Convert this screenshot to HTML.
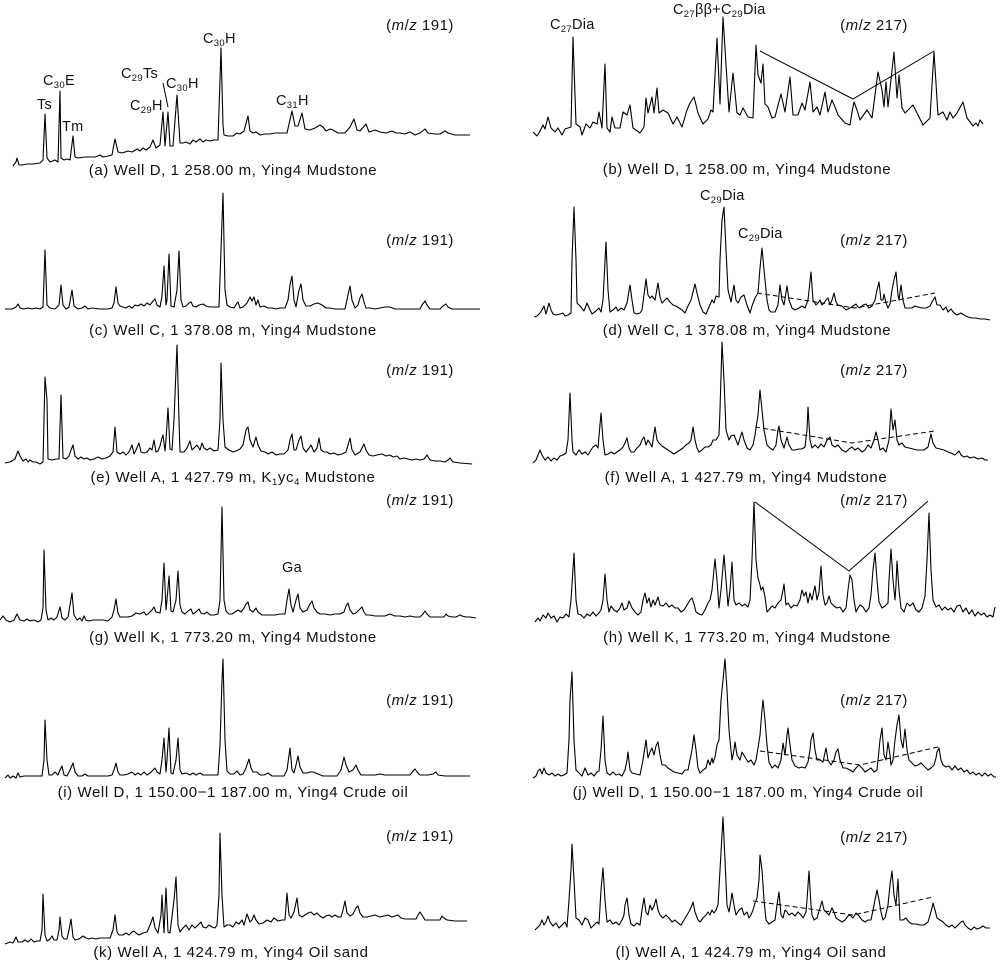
<!DOCTYPE html>
<html><head><meta charset="utf-8"><style>
html,body{margin:0;padding:0;background:#fff;}
svg{display:block;}
text{font-family:"Liberation Sans",Arial,sans-serif;fill:#111;}
.cap{font-size:15px;letter-spacing:0.6px;}
.mz{font-size:15px;letter-spacing:0.5px;}
.lb{font-size:14.5px;letter-spacing:0.3px;}
.t{fill:none;stroke:#000;stroke-width:1.1;stroke-linejoin:round;}
.v{fill:none;stroke:#000;stroke-width:1;}
.d{fill:none;stroke:#000;stroke-width:1;stroke-dasharray:5,3;}
</style></head><body>
<svg width="1000" height="962" viewBox="0 0 1000 962" xmlns="http://www.w3.org/2000/svg">

<!-- (a) -->
<polyline class="t" points="13,166 16,162 17,158 19,165 22,165 27,164 33,164 40,163 43,160 45,114 47,158 50,162 55,160 58,162 60,91 61,158 64,160 67,159 70,160 73,136 75,157 78,158 85,157 95,157 100,155 103,157 108,156 112,155 115,139 118,152 122,153 128,151 132,152 137,149 140,151 143,148 146,150 150,147 153,140 156,148 160,145 163,112 165,146 168,112 170,146 173,146 177,95 180,143 183,143 186,142 190,144 193,140 196,142 200,139 203,142 206,140 210,141 214,140 218,140 220,80 221,48 223,125 224,135 228,136 233,136 237,133 240,134 244,131 248,116 250,131 253,133 256,132 260,135 265,134 270,134 275,133 280,133 287,133 292,111 295,126 298,126 302,113 305,129 310,130 315,128 320,125 323,127 326,131 330,129 333,130 338,133 345,133 350,127 354,119 357,130 360,131 366,124 369,132 375,130 380,132 386,133 392,131 396,133 400,133 405,134 410,132 415,135 420,133 425,129 428,133 435,134 440,134 445,131 448,133 455,135 470,135"/>
<text class="lb" x="37" y="109">Ts</text>
<text class="lb" x="43" y="85">C<tspan font-size="9.5" dy="3">30</tspan><tspan dy="-3">E</tspan></text>
<text class="lb" x="62" y="131">Tm</text>
<text class="lb" x="121" y="78">C<tspan font-size="9.5" dy="3">29</tspan><tspan dy="-3">Ts</tspan></text>
<line class="v" x1="163" y1="83" x2="168" y2="107"/>
<text class="lb" x="166" y="88">C<tspan font-size="9.5" dy="3">30</tspan><tspan dy="-3">H</tspan></text>
<text class="lb" x="130" y="110">C<tspan font-size="9.5" dy="3">29</tspan><tspan dy="-3">H</tspan></text>
<text class="lb" x="203" y="43">C<tspan font-size="9.5" dy="3">30</tspan><tspan dy="-3">H</tspan></text>
<text class="lb" x="276" y="105">C<tspan font-size="9.5" dy="3">31</tspan><tspan dy="-3">H</tspan></text>
<text class="mz" x="420" y="30" text-anchor="middle">(<tspan font-style="italic">m</tspan>/<tspan font-style="italic">z</tspan> 191)</text>
<text class="cap" x="233" y="175" text-anchor="middle">(a) Well D, 1 258.00 m, Ying4 Mudstone</text>

<!-- (b) -->
<polyline class="t" points="533,132 537,136 539,133 543,125 545,129 548,117 551,128 555,132 558,128 562,135 565,129 568,128 571,127 573,37 576,124 580,127 582,135 586,124 590,128 593,122 597,124 599,112 602,128 605,64 607,128 610,132 612,117 615,128 620,128 623,112 627,115 630,105 633,128 640,133 644,127 646,98 648,113 652,97 654,113 657,88 659,113 663,110 668,113 673,124 677,117 682,127 687,110 690,103 694,97 698,113 703,124 708,119 711,110 713,112 717,38 720,104 723,17 729,112 733,73 737,113 740,115 743,108 748,117 753,118 756,45 758,75 761,83 763,64 765,104 768,107 772,118 775,117 781,94 785,112 790,77 793,115 798,115 802,103 805,110 810,82 813,112 817,107 820,115 825,92 828,112 832,100 835,107 838,115 845,123 850,125 852,112 854,102 857,110 860,120 867,110 872,118 878,72 882,90 884,107 886,82 888,107 894,52 897,98 899,75 902,108 905,113 908,110 913,105 917,113 923,125 930,118 934,52 938,115 943,112 947,120 950,112 953,118 957,113 963,102 967,118 970,122 973,126 976,123 978,126 980,120 983,124"/>
<polyline class="v" points="760,51 853,99 934,51"/>
<text class="lb" x="550" y="29">C<tspan font-size="9.5" dy="3">27</tspan><tspan dy="-3">Dia</tspan></text>
<text class="lb" x="673" y="14">C<tspan font-size="9.5" dy="3">27</tspan><tspan dy="-3">ββ+C</tspan><tspan font-size="9.5" dy="3">29</tspan><tspan dy="-3">Dia</tspan></text>
<text class="mz" x="874" y="30" text-anchor="middle">(<tspan font-style="italic">m</tspan>/<tspan font-style="italic">z</tspan> 217)</text>
<text class="cap" x="747" y="174" text-anchor="middle">(b) Well D, 1 258.00 m, Ying4 Mudstone</text>

<!-- (c) -->
<polyline class="t" points="5,309 12,309 16,307 18,304 20,308 24,309 28,308 32,309 36,308 40,309 43,307 45,250 47,305 50,308 55,309 59,305 61,285 63,305 66,309 69,307 72,290 74,306 78,309 82,308 85,306 88,309 92,308 100,309 108,309 112,308 114,303 116,287 118,303 120,306 123,307 126,308 129,306 132,308 135,305 138,306 141,304 144,306 147,303 150,305 153,301 155,299 157,305 160,307 162,296 164,266 166,305 167,300 169,254 171,306 174,307 177,290 179,251 181,300 183,307 186,306 189,303 191,302 193,306 196,307 199,305 203,304 206,306 210,307 214,307 219,307 221,250 223,193 225,290 227,305 230,307 234,308 237,303 238,302 240,308 243,307 247,303 250,297 252,301 254,297 256,305 258,300 260,307 264,306 268,308 272,308 276,309 280,308 285,308 288,300 290,285 292,276 294,300 296,307 299,290 301,284 303,300 306,306 310,306 314,304 318,303 322,305 326,308 330,308 335,309 340,309 345,309 348,295 350,286 352,300 355,308 358,305 360,298 362,294 364,302 366,308 370,308 375,309 380,308 385,307 390,307 395,309 400,309 405,309 410,309 415,309 420,309 422,305 425,301 427,305 430,309 435,309 440,309 443,306 446,304 448,307 452,309 460,309 470,309 480,309"/>
<text class="mz" x="420" y="245" text-anchor="middle">(<tspan font-style="italic">m</tspan>/<tspan font-style="italic">z</tspan> 191)</text>
<text class="cap" x="233" y="335" text-anchor="middle">(c) Well C, 1 378.08 m, Ying4 Mudstone</text>

<!-- (d) -->
<polyline class="t" points="534,317 537,316 540,313 542,310 544,306 546,314 549,303 551,310 553,314 556,315 560,314 563,313 565,316 568,315 571,313 572,260 574,207 576,260 577,303 580,306 584,311 587,303 590,310 592,314 596,311 599,308 601,312 603,300 606,242 608,290 610,312 613,310 616,307 618,311 621,308 624,310 627,303 630,285 632,300 634,313 637,314 640,313 642,310 644,295 646,279 648,295 650,298 652,296 655,300 658,283 660,297 662,303 665,300 667,298 670,302 673,305 676,306 679,308 682,310 685,313 688,306 691,300 693,292 695,284 697,293 700,305 703,312 706,314 709,307 712,300 714,303 716,296 719,297 720,260 722,220 724,207 726,250 728,290 731,302 734,285 736,300 738,303 741,297 744,295 747,305 750,313 752,306 755,298 758,293 760,268 762,248 764,270 767,300 769,310 771,312 775,312 778,305 780,285 782,300 784,305 787,286 789,300 792,308 795,310 799,308 802,306 805,308 808,300 811,272 813,300 816,305 818,303 820,300 822,305 824,303 826,300 828,298 830,305 832,300 834,293 836,302 838,305 842,306 846,310 850,308 853,306 856,304 858,307 860,308 863,305 866,304 869,308 872,306 875,300 877,290 879,282 881,300 883,300 884,294 886,303 888,308 890,304 892,290 894,280 896,272 898,295 899,300 901,285 903,300 905,308 908,308 912,308 915,306 918,307 922,308 926,308 930,306 932,302 935,297 937,305 940,305 943,310 946,307 948,312 951,309 954,313 957,315 961,313 964,315 968,317 972,318 976,318 980,319 985,319 990,320"/>
<polyline class="d" points="757,293 855,308 935,293"/>
<text class="lb" x="700" y="200">C<tspan font-size="9.5" dy="3">29</tspan><tspan dy="-3">Dia</tspan></text>
<text class="lb" x="738" y="238">C<tspan font-size="9.5" dy="3">29</tspan><tspan dy="-3">Dia</tspan></text>
<text class="mz" x="874" y="245" text-anchor="middle">(<tspan font-style="italic">m</tspan>/<tspan font-style="italic">z</tspan> 217)</text>
<text class="cap" x="747" y="335" text-anchor="middle">(d) Well C, 1 378.08 m, Ying4 Mudstone</text>

<!-- (e) -->
<polyline class="t" points="5,463 10,462 15,459 18,451 20,456 23,461 26,459 28,462 30,460 33,462 36,462 40,464 43,462 45,377 47,400 48,459 52,460 56,459 59,459 61,395 63,458 66,459 69,456 71,450 73,445 75,456 78,459 81,457 84,459 87,458 90,460 94,459 98,457 102,459 106,458 110,456 113,452 115,427 117,452 120,454 123,452 126,455 129,452 132,445 134,454 136,450 139,443 141,452 144,453 147,452 150,448 152,450 154,440 156,452 158,451 160,446 162,438 163,435 165,451 166,440 168,408 170,449 172,450 174,420 177,345 179,420 180,452 184,452 187,448 190,441 192,450 195,447 197,445 200,450 202,443 204,448 207,450 210,448 214,451 218,450 220,420 221,363 223,420 225,447 229,450 233,452 236,451 240,449 243,445 246,430 248,427 250,440 253,447 256,437 258,445 261,451 265,452 268,454 272,452 276,455 280,454 284,454 288,450 290,440 292,434 294,450 296,450 299,440 301,436 303,448 306,452 309,448 311,445 314,452 317,448 319,438 321,450 324,452 327,452 330,454 334,453 338,455 342,454 346,452 348,445 350,438 352,450 355,455 360,452 362,448 364,444 366,450 369,455 373,456 377,455 382,454 386,456 390,455 393,457 397,456 400,459 404,458 408,459 412,460 416,459 420,460 424,459 427,455 430,460 435,461 440,461 445,462 448,460 450,458 453,462 460,463 472,464"/>
<text class="mz" x="420" y="375" text-anchor="middle">(<tspan font-style="italic">m</tspan>/<tspan font-style="italic">z</tspan> 191)</text>
<text class="cap" x="233" y="482" text-anchor="middle">(e) Well A, 1 427.79 m, K<tspan font-size="9.5" dy="3">1</tspan><tspan dy="-3">yc</tspan><tspan font-size="9.5" dy="3">4</tspan><tspan dy="-3"> Mudstone</tspan></text>

<!-- (f) -->
<polyline class="t" points="533,463 536,460 538,455 540,450 542,455 545,460 548,457 551,461 554,458 557,460 560,456 563,455 566,453 568,440 570,393 572,440 573,452 576,455 579,450 582,454 585,452 588,455 591,450 593,447 596,445 598,448 601,413 603,440 605,455 608,454 611,452 614,454 617,452 620,450 623,447 625,443 627,438 629,448 631,452 634,452 637,448 640,445 642,440 644,437 646,445 648,440 650,443 652,447 655,427 657,440 659,443 662,446 665,448 668,450 671,452 674,454 677,452 680,450 683,448 686,445 689,443 691,440 693,427 695,440 697,448 699,452 702,450 705,447 708,447 711,445 713,440 716,440 719,435 720,410 722,342 724,380 726,430 729,440 731,436 734,435 736,440 738,445 740,438 742,432 744,440 747,448 750,450 753,445 755,435 758,415 760,390 762,410 764,430 767,445 770,448 773,450 776,445 778,430 779,426 781,440 784,448 787,437 789,445 792,450 795,450 799,449 802,449 805,447 807,430 808,407 810,440 812,448 815,445 818,448 821,444 824,447 827,440 830,437 832,445 835,447 838,445 842,450 846,452 849,449 852,447 855,450 858,448 862,452 865,450 868,445 871,448 874,440 876,432 878,440 880,450 883,448 886,452 889,440 891,409 893,430 895,420 897,440 899,445 902,443 905,447 909,448 913,449 917,450 920,450 924,450 928,447 931,434 933,443 936,448 940,449 944,450 948,452 951,453 955,455 958,452 959,451 961,455 964,457 967,456 970,458 974,457 978,459 982,458 985,460 988,460"/>
<polyline class="d" points="755,427 852,443 935,431"/>
<text class="mz" x="874" y="375" text-anchor="middle">(<tspan font-style="italic">m</tspan>/<tspan font-style="italic">z</tspan> 217)</text>
<text class="cap" x="746" y="482" text-anchor="middle">(f) Well A, 1 427.79 m, Ying4 Mudstone</text>

<!-- (g) -->
<polyline class="t" points="0,620 3,616 6,620 10,622 14,620 17,614 20,620 24,621 27,619 30,621 34,620 38,622 41,620 43,608 44,550 46,610 48,620 51,618 54,620 57,617 60,607 62,618 65,620 68,617 70,605 72,593 74,615 77,620 80,618 82,621 84,616 86,620 89,621 93,620 98,620 103,620 108,621 110,619 112,617 114,610 116,599 118,613 120,617 124,617 128,617 132,616 136,613 140,614 144,612 146,615 148,614 152,610 154,607 156,612 160,613 162,600 164,563 166,610 167,600 169,576 171,611 173,612 176,600 178,571 180,605 182,612 185,614 188,611 191,609 193,614 196,612 199,609 201,613 204,614 207,612 210,615 214,615 218,614 220,600 222,507 224,600 226,611 229,614 232,614 235,612 238,610 241,612 244,608 246,604 248,602 250,610 253,612 256,608 258,612 262,615 266,615 270,615 275,615 280,614 285,614 287,600 289,589 291,605 293,612 296,600 298,594 300,608 303,612 307,610 310,604 312,601 314,608 317,612 320,614 325,614 330,615 335,614 340,614 344,612 346,606 348,603 350,610 353,614 356,613 359,610 362,607 364,612 366,615 370,615 375,616 380,616 385,616 390,614 395,616 400,616 405,617 410,616 415,617 420,617 423,614 425,611 427,614 430,617 435,617 440,617 444,617 446,614 448,616 452,617 456,617 460,615 462,616 466,617 470,617 476,618"/>
<text class="lb" x="282" y="572">Ga</text>
<text class="mz" x="420" y="505" text-anchor="middle">(<tspan font-style="italic">m</tspan>/<tspan font-style="italic">z</tspan> 191)</text>
<text class="cap" x="233" y="642" text-anchor="middle">(g) Well K, 1 773.20 m, Ying4 Mudstone</text>

<!-- (h) -->
<polyline class="t" points="535,622 538,618 540,621 543,615 546,618 548,613 551,618 554,616 557,622 560,617 563,618 566,614 569,617 571,600 574,553 576,600 578,614 581,615 584,618 587,614 590,616 593,612 596,616 599,613 601,610 603,600 605,574 607,600 609,612 611,606 614,610 617,612 620,608 622,603 624,610 627,608 629,601 632,608 635,612 638,615 641,612 643,600 645,593 647,603 649,598 651,607 653,600 655,605 658,597 660,605 663,606 666,603 669,607 672,605 675,608 678,608 681,612 684,610 687,605 690,600 692,598 694,604 696,612 699,614 702,615 705,610 708,603 710,600 712,590 715,559 717,580 719,608 721,590 724,555 726,580 728,606 730,590 732,562 734,600 736,605 739,603 742,606 745,604 748,607 750,600 752,560 754,502 756,560 758,578 760,585 761,590 763,587 765,597 767,612 769,610 772,606 775,608 778,603 781,600 783,590 784,584 786,605 788,603 791,608 794,605 797,606 800,600 802,590 804,596 806,592 808,603 810,593 812,600 814,590 815,586 817,600 819,592 821,566 823,595 825,605 827,603 829,596 831,603 834,606 837,608 840,607 843,612 846,608 848,590 850,575 852,580 854,600 856,612 858,608 860,605 863,607 866,612 869,608 871,595 873,570 875,553 877,580 879,602 882,608 885,606 888,603 889,580 891,549 893,580 895,600 896,585 897,561 899,590 901,608 904,612 907,603 910,606 913,603 916,610 919,612 922,608 925,596 927,560 929,513 931,570 933,600 936,607 939,605 942,610 945,607 948,610 951,608 954,612 957,606 960,605 963,612 966,608 969,614 972,610 975,616 978,612 981,615 984,613 987,617 990,615 993,617 995,607"/>
<polyline class="v" points="755,502 849,571 928,501"/>
<text class="mz" x="874" y="505" text-anchor="middle">(<tspan font-style="italic">m</tspan>/<tspan font-style="italic">z</tspan> 217)</text>
<text class="cap" x="747" y="642" text-anchor="middle">(h) Well K, 1 773.20 m, Ying4 Mudstone</text>

<!-- (i) -->
<polyline class="t" points="5,778 8,775 10,778 13,776 16,778 18,773 20,777 24,776 30,776 36,776 42,776 44,760 45,720 47,760 49,775 52,775 55,772 58,775 60,770 62,766 64,775 67,776 70,770 73,763 75,772 78,776 82,776 85,774 88,776 92,776 100,776 108,776 112,775 114,770 116,763 118,772 120,775 124,775 128,774 132,772 135,775 138,773 141,775 144,772 147,775 150,773 153,770 155,768 157,772 160,774 162,760 164,738 166,772 167,760 169,728 171,773 173,774 176,760 178,738 180,770 182,774 186,773 190,775 193,773 196,775 200,773 203,775 207,775 212,775 218,775 220,745 222,680 223,659 225,740 227,771 230,774 234,774 237,771 240,775 243,774 246,768 249,759 251,768 253,772 257,772 260,775 264,775 268,773 272,776 276,776 280,776 284,776 287,770 290,748 292,770 294,773 296,765 298,756 300,767 303,773 307,773 310,772 313,772 318,774 323,776 330,776 337,776 341,770 344,757 346,765 349,772 353,770 356,765 358,770 361,775 365,775 370,775 375,775 380,774 385,775 390,775 395,775 400,775 405,775 410,775 413,771 415,769 417,772 420,775 428,775 433,774 436,772 438,775 445,776 455,776 470,776"/>
<text class="mz" x="420" y="705" text-anchor="middle">(<tspan font-style="italic">m</tspan>/<tspan font-style="italic">z</tspan> 191)</text>
<text class="cap" x="233" y="797" text-anchor="middle">(i) Well D, 1 150.00−1 187.00 m, Ying4 Crude oil</text>

<!-- (j) -->
<polyline class="t" points="533,778 536,776 538,771 540,769 542,774 544,768 546,773 549,775 552,773 555,776 558,774 561,776 564,775 567,773 569,740 570,700 572,672 574,740 576,770 579,773 582,776 585,768 588,775 591,773 594,776 597,772 599,771 601,750 603,716 605,760 607,773 610,775 613,772 616,775 619,774 622,776 625,770 627,760 628,752 630,770 632,773 636,774 640,775 643,760 646,740 648,758 650,752 652,748 654,755 656,746 658,742 660,755 662,765 665,765 668,768 671,770 674,772 678,773 682,774 685,770 688,770 690,760 692,750 694,735 696,750 698,768 700,773 703,770 706,768 708,760 710,765 712,758 713,763 715,757 717,745 719,740 721,700 723,680 725,659 727,690 729,730 732,760 734,750 735,742 737,755 740,760 742,752 745,757 748,762 751,760 754,765 756,760 758,748 760,735 762,710 763,700 765,720 767,745 769,762 772,768 775,765 778,768 781,760 783,743 785,755 787,735 788,728 790,745 792,760 795,766 799,768 802,767 805,768 808,762 810,750 811,740 813,733 815,750 817,760 820,760 823,762 826,748 828,760 831,765 834,760 836,752 838,749 840,760 843,768 846,768 850,770 853,772 856,768 859,765 862,768 865,772 868,770 871,768 874,772 877,770 879,750 880,740 882,728 884,755 886,760 888,742 890,755 891,765 893,760 895,740 897,725 899,715 901,740 903,748 905,729 907,750 909,760 912,763 915,766 918,765 921,763 924,766 928,770 931,768 934,765 936,758 937,752 939,748 941,760 943,765 946,767 949,766 952,770 955,766 958,770 961,768 964,772 967,770 970,774 973,772 976,775 979,773 982,776 985,773 988,776 991,774 994,777 996,777"/>
<polyline class="d" points="760,751 860,765 938,747"/>
<text class="mz" x="874" y="705" text-anchor="middle">(<tspan font-style="italic">m</tspan>/<tspan font-style="italic">z</tspan> 217)</text>
<text class="cap" x="748" y="797" text-anchor="middle">(j) Well D, 1 150.00−1 187.00 m, Ying4 Crude oil</text>

<!-- (k) -->
<polyline class="t" points="5,944 10,942 13,943 16,937 18,942 22,942 25,940 28,942 31,939 34,942 37,941 40,941 42,930 43,894 45,935 47,941 50,939 52,936 54,940 57,940 59,930 60,917 62,936 64,939 67,939 69,930 71,919 73,937 75,940 79,939 83,936 86,938 89,939 92,938 96,939 100,938 105,938 110,938 113,930 115,915 117,932 119,935 123,935 126,933 129,935 132,932 134,931 136,933 139,935 143,933 147,932 150,925 153,917 155,928 158,933 161,915 162,895 164,933 166,888 168,932 170,933 174,900 176,877 178,925 180,932 183,928 186,925 189,930 192,925 195,928 198,925 201,922 203,927 206,928 209,925 212,927 215,928 217,925 219,895 220,833 222,895 224,927 227,925 230,925 233,927 236,922 239,924 242,920 244,925 247,914 250,922 252,920 254,915 256,920 259,924 263,923 267,920 271,922 274,918 278,921 282,920 285,920 287,893 289,915 291,918 294,912 297,898 299,915 302,917 305,915 308,913 311,912 314,915 317,913 320,916 323,918 326,916 329,915 332,917 335,915 338,917 341,917 343,910 345,901 347,913 350,916 353,914 356,908 358,906 360,913 363,917 367,917 371,916 375,915 380,917 384,916 388,915 392,917 395,916 398,915 401,918 405,919 410,919 416,919 418,915 420,912 422,915 425,920 430,920 435,920 440,920 442,916 444,918 447,920 455,921 467,921"/>
<text class="mz" x="420" y="841" text-anchor="middle">(<tspan font-style="italic">m</tspan>/<tspan font-style="italic">z</tspan> 191)</text>
<text class="cap" x="231" y="957" text-anchor="middle">(k) Well A, 1 424.79 m, Ying4 Oil sand</text>

<!-- (l) -->
<polyline class="t" points="535,930 538,927 540,925 542,920 544,925 546,922 548,916 550,922 553,926 556,923 559,928 562,925 565,922 567,927 569,900 571,870 572,844 574,880 576,918 579,920 582,925 585,918 588,920 591,928 594,925 597,922 599,924 601,890 603,868 605,900 607,922 610,920 613,924 616,922 619,925 622,920 624,915 625,905 627,898 629,915 631,924 634,926 637,923 640,925 642,910 644,898 646,912 648,915 650,905 652,910 654,906 656,899 658,910 660,915 663,918 666,915 669,918 672,922 675,920 678,923 681,925 684,920 687,915 690,910 692,905 693,902 695,912 698,920 700,922 703,918 706,915 708,912 710,915 712,910 714,913 716,910 718,905 720,870 722,835 723,817 725,860 727,905 729,912 731,900 732,893 734,905 736,915 739,910 742,908 744,915 747,912 749,918 751,915 753,910 755,903 757,898 759,880 760,855 762,870 764,900 766,920 769,924 772,922 775,920 777,905 779,892 781,915 783,918 785,910 787,912 789,915 792,913 795,916 798,912 801,915 803,918 806,912 807,900 809,871 811,905 812,915 814,920 817,918 820,908 822,901 824,910 826,912 829,915 832,908 834,912 836,918 839,920 842,922 845,920 848,916 850,915 853,918 856,913 859,916 862,920 865,922 868,920 871,920 873,910 875,900 877,890 879,900 881,912 883,920 885,918 888,905 890,885 892,871 894,895 896,905 898,879 900,920 903,920 906,918 909,922 912,924 916,924 920,925 924,925 928,922 930,915 932,908 933,903 935,910 937,918 940,920 943,922 946,925 949,927 952,925 955,928 958,925 961,922 963,921 965,925 968,928 971,930 974,927 977,929 980,928 983,926 986,928 990,928"/>
<polyline class="d" points="753,901 853,915 933,897"/>
<text class="mz" x="874" y="842" text-anchor="middle">(<tspan font-style="italic">m</tspan>/<tspan font-style="italic">z</tspan> 217)</text>
<text class="cap" x="751" y="957" text-anchor="middle">(l) Well A, 1 424.79 m, Ying4 Oil sand</text>

</svg>
</body></html>
